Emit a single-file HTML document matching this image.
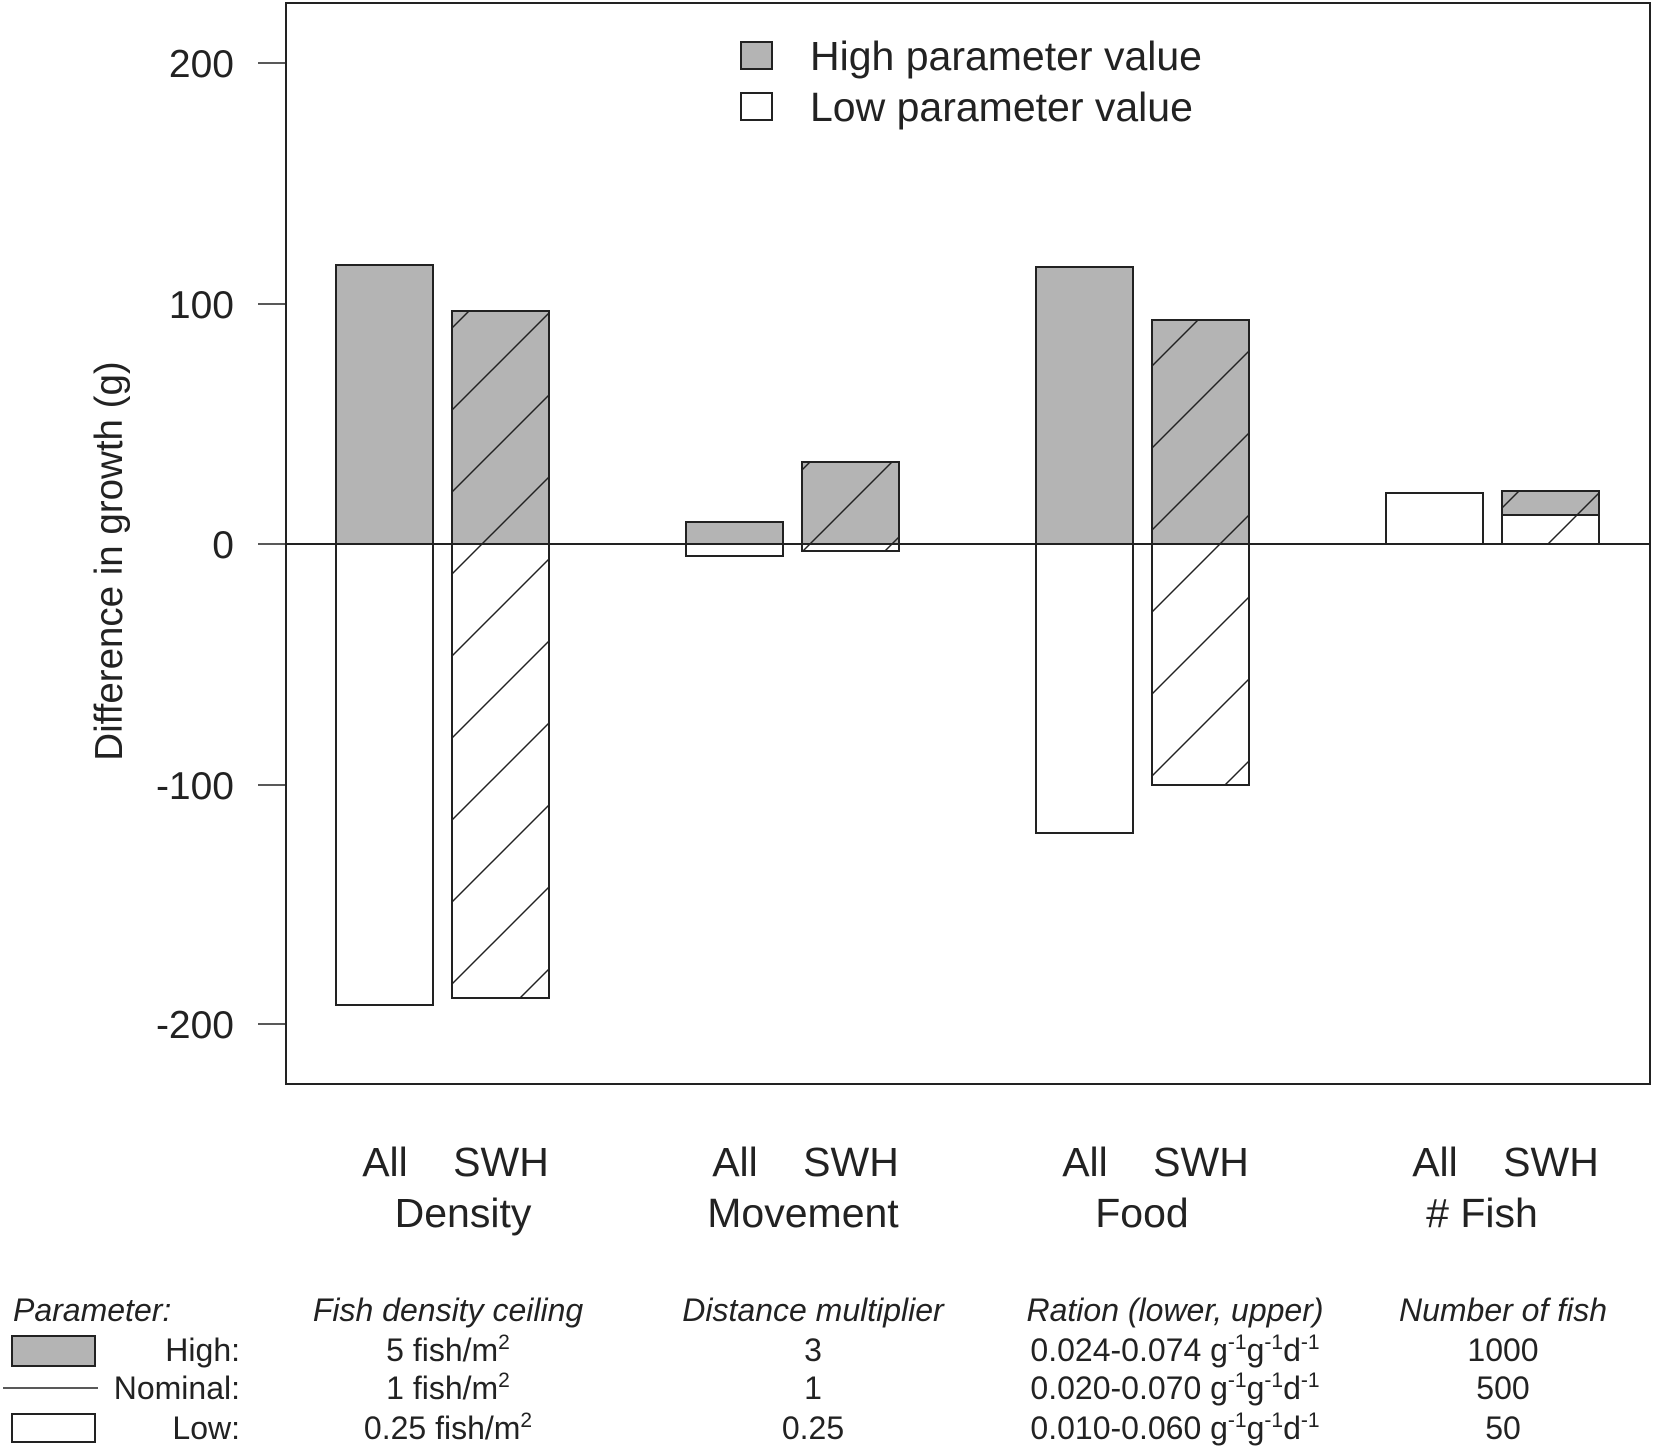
<!DOCTYPE html>
<html><head><meta charset="utf-8"><style>body{margin:0;background:#fff}svg{display:block}</style></head>
<body>
<svg width="1653" height="1449" viewBox="0 0 1653 1449" xmlns="http://www.w3.org/2000/svg" font-family="Liberation Sans, sans-serif">
<defs>
<pattern id="h" patternUnits="userSpaceOnUse" width="82" height="82" x="0" y="42">
<line x1="-2" y1="84" x2="84" y2="-2" stroke="#222" stroke-width="1.5"/>
<line x1="-10" y1="10" x2="10" y2="-10" stroke="#222" stroke-width="1.5"/>
<line x1="72" y1="92" x2="92" y2="72" stroke="#222" stroke-width="1.5"/>
</pattern>
</defs>
<rect x="286" y="3" width="1364" height="1081" fill="none" stroke="#222" stroke-width="2"/>
<g stroke="#222" stroke-width="1.5">
<line x1="258" y1="63" x2="286" y2="63"/><line x1="258" y1="304" x2="286" y2="304"/>
<line x1="258" y1="544" x2="286" y2="544"/><line x1="258" y1="785" x2="286" y2="785"/>
<line x1="258" y1="1024" x2="286" y2="1024"/>
</g>
<g font-size="39" fill="#222" text-anchor="end">
<text x="234" y="77">200</text><text x="234" y="318">100</text><text x="234" y="558">0</text>
<text x="234" y="799">-100</text><text x="234" y="1038">-200</text>
</g>
<text transform="translate(122,561) rotate(-90)" font-size="38.5" fill="#222" text-anchor="middle">Difference in growth (g)</text>
<g stroke="#222" stroke-width="2">
<rect x="336" y="265" width="97" height="279" fill="#b4b4b4"/>
<rect x="336" y="544" width="97" height="461" fill="#fff"/>
<rect x="452" y="311" width="97" height="233" fill="#b4b4b4"/>
<rect x="452" y="544" width="97" height="454" fill="#fff"/>
<rect x="452" y="311" width="97" height="687" fill="url(#h)" stroke-width="1.5"/>
<rect x="686" y="522" width="97" height="22" fill="#b4b4b4"/>
<rect x="686" y="544" width="97" height="12" fill="#fff"/>
<rect x="802" y="462" width="97" height="82" fill="#b4b4b4"/>
<rect x="802" y="544" width="97" height="7" fill="#fff"/>
<rect x="802" y="462" width="97" height="89" fill="url(#h)" stroke-width="1.5"/>
<rect x="1036" y="267" width="97" height="277" fill="#b4b4b4"/>
<rect x="1036" y="544" width="97" height="289" fill="#fff"/>
<rect x="1152" y="320" width="97" height="224" fill="#b4b4b4"/>
<rect x="1152" y="544" width="97" height="241" fill="#fff"/>
<rect x="1152" y="320" width="97" height="465" fill="url(#h)" stroke-width="1.5"/>
<rect x="1386" y="493" width="97" height="51" fill="#fff"/>
<rect x="1502" y="491" width="97" height="53" fill="#b4b4b4"/>
<rect x="1502" y="515" width="97" height="29" fill="#fff"/>
<rect x="1502" y="491" width="97" height="53" fill="url(#h)" stroke-width="1.5"/>
</g>
<line x1="286" y1="544" x2="1650" y2="544" stroke="#222" stroke-width="2"/>
<rect x="741" y="42" width="31" height="27" fill="#b4b4b4" stroke="#222" stroke-width="2"/>
<rect x="741" y="93" width="31" height="27" fill="#fff" stroke="#222" stroke-width="2"/>
<g font-size="41" fill="#222">
<text x="810" y="70">High parameter value</text>
<text x="810" y="121">Low parameter value</text>
</g>
<g font-size="41" fill="#222" text-anchor="middle">
<text x="385" y="1176">All</text><text x="501" y="1176">SWH</text>
<text x="735" y="1176">All</text><text x="851" y="1176">SWH</text>
<text x="1085" y="1176">All</text><text x="1201" y="1176">SWH</text>
<text x="1435" y="1176">All</text><text x="1551" y="1176">SWH</text>
<text x="463" y="1227">Density</text><text x="803" y="1227">Movement</text>
<text x="1142" y="1227">Food</text><text x="1482" y="1227">#&#160;Fish</text>
</g>
<g font-size="32" fill="#222">
<g font-style="italic">
<text x="13" y="1321">Parameter:</text>
<g text-anchor="middle">
<text x="448" y="1321">Fish density ceiling</text>
<text x="813" y="1321">Distance multiplier</text>
<text x="1175" y="1321">Ration (lower, upper)</text>
<text x="1503" y="1321">Number of fish</text>
</g></g>
<g text-anchor="end">
<text x="240" y="1361">High:</text><text x="240" y="1399">Nominal:</text><text x="240" y="1439">Low:</text>
</g>
<g text-anchor="middle">
<text x="448" y="1361">5 fish/m<tspan font-size="21" dy="-12">2</tspan></text>
<text x="448" y="1399">1 fish/m<tspan font-size="21" dy="-12">2</tspan></text>
<text x="448" y="1439">0.25 fish/m<tspan font-size="21" dy="-12">2</tspan></text>
<text x="813" y="1361">3</text><text x="813" y="1399">1</text><text x="813" y="1439">0.25</text>
<text x="1175" y="1361">0.024-0.074 g<tspan font-size="21" dy="-12">-1</tspan><tspan dy="12">g</tspan><tspan font-size="21" dy="-12">-1</tspan><tspan dy="12">d</tspan><tspan font-size="21" dy="-12">-1</tspan></text>
<text x="1175" y="1399">0.020-0.070 g<tspan font-size="21" dy="-12">-1</tspan><tspan dy="12">g</tspan><tspan font-size="21" dy="-12">-1</tspan><tspan dy="12">d</tspan><tspan font-size="21" dy="-12">-1</tspan></text>
<text x="1175" y="1439">0.010-0.060 g<tspan font-size="21" dy="-12">-1</tspan><tspan dy="12">g</tspan><tspan font-size="21" dy="-12">-1</tspan><tspan dy="12">d</tspan><tspan font-size="21" dy="-12">-1</tspan></text>
<text x="1503" y="1361">1000</text><text x="1503" y="1399">500</text><text x="1503" y="1439">50</text>
</g></g>
<rect x="12" y="1336" width="83" height="30" fill="#b4b4b4" stroke="#222" stroke-width="2"/>
<line x1="3" y1="1388" x2="98" y2="1388" stroke="#222" stroke-width="1.5"/>
<rect x="12" y="1414" width="83" height="28" fill="#fff" stroke="#222" stroke-width="2"/>
</svg>
</body></html>
